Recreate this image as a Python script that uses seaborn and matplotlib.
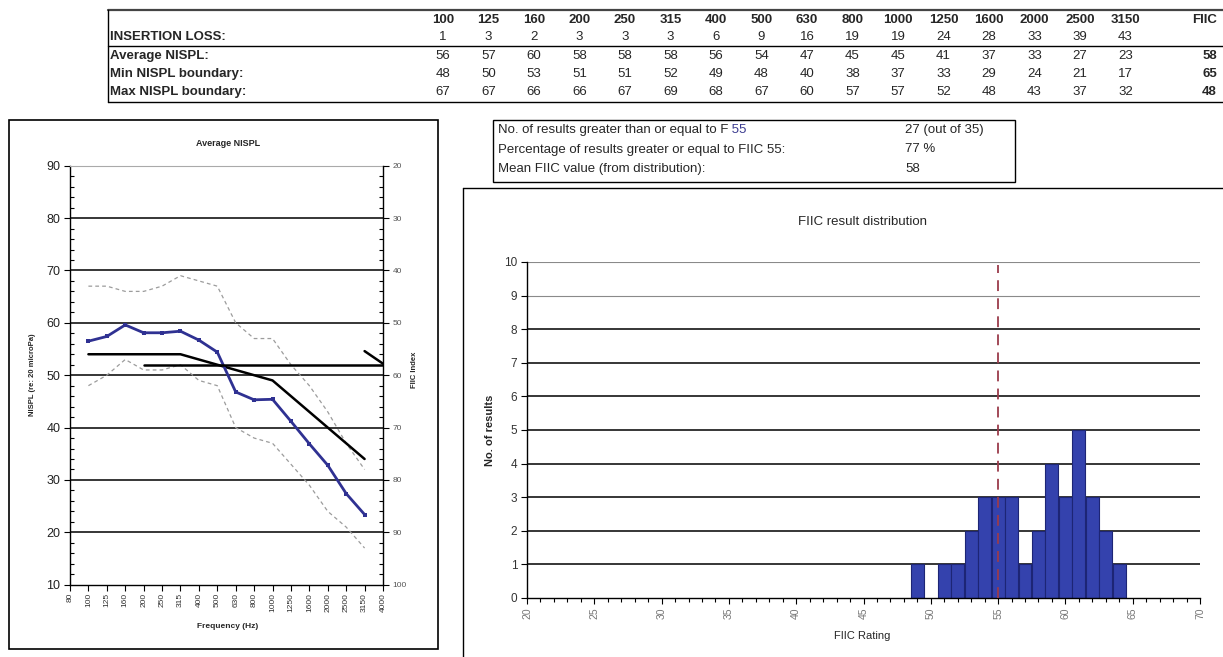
import seaborn as sns
import pandas as pd
import matplotlib.pyplot as plt
from matplotlib.patches import Rectangle
from matplotlib.lines import Line2D
from matplotlib.text import Annotation
from matplotlib.ticker import MultipleLocator

sns.set_theme(style="white")
plt.rcParams['font.family'] = ['Liberation Sans', 'DejaVu Sans']

# ---------------- data ----------------
band_labels = ['100', '125', '160', '200', '250', '315', '400', '500', '630',
               '800', '1000', '1250', '1600', '2000', '2500', '3150']
insertion_loss = [1, 3, 2, 3, 3, 3, 6, 9, 16, 19, 19, 24, 28, 33, 39, 43]
avg_nispl = [56, 57, 60, 58, 58, 58, 56, 54, 47, 45, 45, 41, 37, 33, 27, 23]
min_nispl = [48, 50, 53, 51, 51, 52, 49, 48, 40, 38, 37, 33, 29, 24, 21, 17]
max_nispl = [67, 67, 66, 66, 67, 69, 68, 67, 60, 57, 57, 52, 48, 43, 37, 32]
fiic_column = [58, 65, 48]

# curve values as drawn in the chart (unrounded)
avg_curve = [56.5, 57.4, 59.6, 58.1, 58.1, 58.4, 56.7, 54.4, 46.8, 45.3, 45.4,
             41.2, 36.9, 32.8, 27.4, 23.4]
ref_curve = [54, 54, 54, 54, 54, 54, 53, 52, 51, 50, 49, 46, 43, 40, 37, 34]
freq_axis_labels = ['80'] + band_labels + ['4000']
fiic_avg = 58
fiic_marker_pos = [16, 17]
fiic_marker_val = [55.4, 57.8]

fiic_ratings = [49, 51, 52, 53, 54, 55, 56, 57, 58, 59, 60, 61, 62, 63, 64]
result_counts = [1, 1, 1, 2, 3, 3, 3, 1, 2, 4, 3, 5, 3, 2, 1]
fiic_criterion = 55

info_labels = ['No. of results greater than or equal to F',
               'Percentage of results greater or equal to FIIC 55:',
               'Mean FIIC value (from distribution):']
info_values = ['27 (out of 35)', '77 %', '58']

# ---------------- figure ----------------
W, H = 1223, 657


def fx(px):
    return px / W


def fy(py):
    return 1 - py / H


fig = plt.figure(figsize=(12.23, 6.57), dpi=100)
fig.patch.set_facecolor('white')


def fline(x0, y0, x1, y1, color='black', lw=1.0):
    fig.add_artist(Line2D([fx(x0), fx(x1)], [fy(y0), fy(y1)],
                          transform=fig.transFigure, color=color, lw=lw))


# ---------------- top table ----------------
fline(108, 10, 1223, 10, color='#444444', lw=1.6)
fline(108, 46, 1223, 46, lw=1.0)
fline(108, 102, 1223, 102, lw=1.0)
fline(108, 10, 108, 102, lw=1.0)

tfs = 9.5
col_x = [443 + i * 45.5 for i in range(len(band_labels))]
fig.text(fx(110), fy(37), 'INSERTION LOSS:', fontsize=tfs, fontweight='bold', va='center')
fig.text(fx(110), fy(56), 'Average NISPL:', fontsize=tfs, fontweight='bold', va='center')
fig.text(fx(110), fy(74), 'Min NISPL boundary:', fontsize=tfs, fontweight='bold', va='center')
fig.text(fx(110), fy(92), 'Max NISPL boundary:', fontsize=tfs, fontweight='bold', va='center')
for i, b in enumerate(band_labels):
    cx = fx(col_x[i])
    fig.text(cx, fy(20), b, fontsize=tfs, fontweight='bold', ha='center', va='center')
    fig.text(cx, fy(37), str(insertion_loss[i]), fontsize=tfs, ha='center', va='center')
    fig.text(cx, fy(56), str(avg_nispl[i]), fontsize=tfs, ha='center', va='center')
    fig.text(cx, fy(74), str(min_nispl[i]), fontsize=tfs, ha='center', va='center')
    fig.text(cx, fy(92), str(max_nispl[i]), fontsize=tfs, ha='center', va='center')
fig.text(fx(1217), fy(20), 'FIIC', fontsize=tfs, fontweight='bold', ha='right', va='center')
for v, ry in zip(fiic_column, [56, 74, 92]):
    fig.text(fx(1217), fy(ry), str(v), fontsize=tfs, fontweight='bold', ha='right', va='center')

# ---------------- info box ----------------
fig.add_artist(Rectangle((fx(493), fy(182)), (1015 - 493) / W, (182 - 120) / H,
                         transform=fig.transFigure, fill=False, ec='black', lw=1.0))
for i, (lab, val) in enumerate(zip(info_labels, info_values)):
    ry = 130 + i * 19.5
    t = fig.text(fx(498), fy(ry), lab, fontsize=9.5, va='center')
    if i == 0:
        fig.add_artist(Annotation(' 55', xy=(1, 0.5), xycoords=t, va='center',
                                  fontsize=9.5, color='#3b3b8f',
                                  annotation_clip=False))
    fig.text(fx(905), fy(ry), val, fontsize=9.5, va='center')

# ---------------- left chart ----------------
fig.add_artist(Rectangle((fx(9), fy(649)), (438 - 9) / W, (649 - 120) / H,
                         transform=fig.transFigure, fill=False, ec='black', lw=1.2))

axL = fig.add_axes([fx(70), fy(584.7), (383 - 70) / W, (584.7 - 165.7) / H])
xs = list(range(1, len(band_labels) + 1))
line_df = pd.DataFrame({'x': xs, 'avg': avg_curve, 'ref': ref_curve,
                        'min': min_nispl, 'max': max_nispl})

for v in range(20, 90, 10):
    axL.axhline(v, color='black', lw=1.1, zorder=0.5)
sns.lineplot(data=line_df, x='x', y='max', ax=axL, color='#9c9c9c', lw=0.9,
             linestyle=(0, (3, 2.5)))
sns.lineplot(data=line_df, x='x', y='min', ax=axL, color='#9c9c9c', lw=0.9,
             linestyle=(0, (3, 2.5)))
sns.lineplot(data=line_df, x='x', y='ref', ax=axL, color='black', lw=1.8)
sns.lineplot(data=line_df, x='x', y='avg', ax=axL, color='#2f3192', lw=2.0,
             marker='s', markersize=3.2, markeredgewidth=0)
axL.set_xlim(0, 17)
axL.set_ylim(10, 90)
axL.set_xticks(range(len(freq_axis_labels)))
axL.set_xticklabels(freq_axis_labels, rotation=90, fontsize=6, color='#333333')
axL.yaxis.set_major_locator(MultipleLocator(10))
axL.yaxis.set_minor_locator(MultipleLocator(2))
axL.tick_params(axis='y', which='major', direction='out', length=4, width=0.8,
                labelsize=9, labelcolor='#222222', colors='black', pad=3)
axL.tick_params(axis='y', which='minor', direction='in', length=3, width=0.8,
                left=True, colors='black')
axL.tick_params(axis='x', which='major', direction='out', length=4, width=0.8,
                bottom=True, pad=2, colors='black', labelcolor='#333333')
axL.set_xlabel('')
axL.set_ylabel('')
for s in ['left', 'bottom']:
    axL.spines[s].set_color('black')
    axL.spines[s].set_linewidth(1.0)
axL.spines['top'].set_color('#aaaaaa')
axL.spines['top'].set_linewidth(0.8)
axL.spines['right'].set_visible(False)

ax2 = axL.twinx()
ax2.set_ylim(100, 20)
ax2.plot([4, 17], [fiic_avg, fiic_avg], color='black', lw=1.8)
sns.lineplot(x=fiic_marker_pos, y=fiic_marker_val, ax=ax2, color='black', lw=1.8)
ax2.yaxis.set_major_locator(MultipleLocator(10))
ax2.yaxis.set_minor_locator(MultipleLocator(2))
ax2.tick_params(axis='y', which='major', direction='out', length=4, width=0.8,
                labelsize=6, labelcolor='#555555', colors='black', right=True, pad=3)
ax2.tick_params(axis='y', which='minor', direction='in', length=3, width=0.8,
                right=True, colors='black')
ax2.set_ylabel('')
ax2.spines['right'].set_color('black')
ax2.spines['right'].set_linewidth(1.0)
for s in ['left', 'top', 'bottom']:
    ax2.spines[s].set_visible(False)

fig.text(fx(228), fy(144), 'Average NISPL', fontsize=6.5, fontweight='bold',
         ha='center', va='center')
fig.text(fx(228), fy(626), 'Frequency (Hz)', fontsize=6, fontweight='bold',
         ha='center', va='center')
fig.text(fx(32), fy(375), 'NISPL (re: 20 microPa)', fontsize=5.5, fontweight='bold',
         ha='center', va='center', rotation=90)
fig.text(fx(415), fy(370), 'FIIC Index', fontsize=5.5, fontweight='bold',
         ha='center', va='center', rotation=90)

# ---------------- right chart ----------------
fline(463, 188, 1223, 188, lw=1.0)
fline(463, 188, 463, 657, lw=1.0)

axR = fig.add_axes([fx(527), fy(598), (1200 - 527) / W, 336 / H])
for v in range(1, 11):
    axR.axhline(v, color='black' if v <= 8 else '#8a8a8a',
                lw=1.1 if v <= 8 else 0.8, zorder=0.5)
hist_df = pd.DataFrame({'rating': fiic_ratings, 'count': result_counts})
sns.barplot(data=hist_df, x='rating', y='count', native_scale=True, ax=axR,
            color='#3442ad', saturation=1, width=0.96, errorbar=None,
            edgecolor='#1d2575', linewidth=0.8, zorder=1)
axR.plot([fiic_criterion, fiic_criterion], [0, 9.9], color='#9b3b4b', lw=1.3,
         dashes=(6, 4), zorder=3)
axR.set_xlim(20, 70)
axR.set_ylim(0, 10)
axR.xaxis.set_major_locator(MultipleLocator(5))
axR.xaxis.set_minor_locator(MultipleLocator(1))
axR.yaxis.set_major_locator(MultipleLocator(1))
axR.tick_params(axis='x', which='major', direction='out', length=4, width=0.8,
                bottom=True, labelsize=7.5, labelcolor='#777777', colors='black',
                labelrotation=90, pad=3)
axR.tick_params(axis='x', which='minor', direction='out', length=3, width=0.8,
                bottom=True, colors='black')
axR.tick_params(axis='y', which='major', direction='out', length=4, width=0.8,
                left=True, labelsize=8.5, labelcolor='#333333', colors='black', pad=3)
axR.set_xticklabels([str(int(t)) for t in axR.get_xticks()])
axR.set_xlim(20, 70)
axR.set_xlabel('')
axR.set_ylabel('')
for s in ['left', 'bottom']:
    axR.spines[s].set_color('black')
    axR.spines[s].set_linewidth(1.0)
for s in ['top', 'right']:
    axR.spines[s].set_visible(False)

fig.text(fx(862), fy(222), 'FIIC result distribution', fontsize=9.5,
         ha='center', va='center')
fig.text(fx(862), fy(636), 'FIIC Rating', fontsize=8, ha='center', va='center')
fig.text(fx(490), fy(430), 'No. of results', fontsize=8, fontweight='bold',
         ha='center', va='center', rotation=90)

fig.savefig('out.png', dpi=100)
